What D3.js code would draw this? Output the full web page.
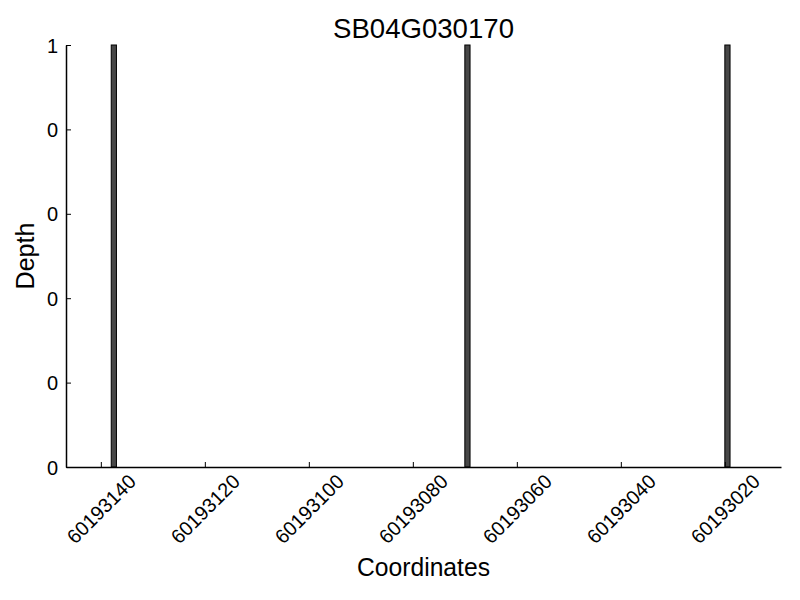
<!DOCTYPE html>
<html>
<head>
<meta charset="utf-8">
<script src="https://cdn.jsdelivr.net/npm/d3@7"></script>
<style>
  html, body { margin: 0; padding: 0; background: #fff; }
  svg { display: block; }
  svg text { font-family: "Liberation Sans", Arial, Helvetica, sans-serif; }
</style>
</head>
<body>
<svg id="chart" width="800" height="600"></svg>
<script>
// ---- data ----
const title = "SB04G030170";
const xLabel = "Coordinates";
const yLabel = "Depth";
const positions = [60193137, 60193069, 60193019];
const depths = [1, 1, 1];
const xTicks = [60193140, 60193120, 60193100, 60193080, 60193060, 60193040, 60193020];
const yTicks = [0, 0.2, 0.4, 0.6, 0.8, 1.0];
const yTickLabels = ["0", "0", "0", "0", "0", "1"];
const xDomain = [60193146.7, 60193009.2];
const yDomain = [0, 1];

// ---- layout ----
const mLeft = 66, mRight = 781, mTop = 45, mBottom = 467;
const svg = d3.select("#chart");

const x = d3.scaleLinear().domain(xDomain).range([mLeft, mRight]);
const y = d3.scaleLinear().domain(yDomain).range([mBottom, mTop]);

// bars (width 1 coordinate, edge aligned)
const data = positions.map((p, i) => ({ pos: p, depth: depths[i] }));
svg.append("g").selectAll("rect").data(data).join("rect")
  .attr("x", d => x(d.pos + 1))
  .attr("width", d => x(d.pos) - x(d.pos + 1))
  .attr("y", d => y(d.depth))
  .attr("height", d => y(0) - y(d.depth))
  .attr("fill", "#474747")
  .attr("stroke", "#000")
  .attr("stroke-width", 1);

// x axis (ticks inward)
const xAxis = d3.axisBottom(x).tickValues(xTicks).tickSizeInner(-5).tickSizeOuter(0)
  .tickFormat(d3.format("d"));
const gx = svg.append("g").attr("transform", `translate(0,${mBottom})`).call(xAxis);
gx.attr("font-family", null);
gx.select(".domain").attr("stroke", "#000").attr("stroke-width", 1.5);
gx.selectAll(".tick line").attr("stroke", "#000").attr("stroke-width", 1);
gx.selectAll(".tick text")
  .attr("font-size", 20)
  .attr("fill", "#000")
  .attr("text-anchor", "middle")
  .attr("dominant-baseline", "central")
  .attr("dy", null)
  .attr("y", null)
  .attr("textLength", 88)
  .attr("lengthAdjust", "spacingAndGlyphs")
  .attr("transform", "translate(0,42) rotate(-45)");

// y axis (ticks inward)
const yAxis = d3.axisLeft(y).tickValues(yTicks).tickSizeInner(-5).tickSizeOuter(0)
  .tickFormat((d, i) => yTickLabels[i]);
const gy = svg.append("g").attr("transform", `translate(${mLeft},0)`).call(yAxis);
gy.attr("font-family", null);
gy.select(".domain").attr("stroke", "#000").attr("stroke-width", 1.5);
gy.selectAll(".tick text")
  .attr("font-size", 20)
  .attr("fill", "#000")
  .attr("x", -8)
  .attr("dy", "0.35em")
  .attr("text-anchor", "end");
gy.selectAll(".tick line").attr("stroke", "#000").attr("stroke-width", 1);

// title
svg.append("text")
  .attr("x", (mLeft + mRight) / 2)
  .attr("y", 38)
  .attr("text-anchor", "middle")
  .attr("font-size", 28.5)
  .attr("textLength", 181)
  .attr("lengthAdjust", "spacingAndGlyphs")
  .text(title);

// x label
svg.append("text")
  .attr("x", (mLeft + mRight) / 2)
  .attr("y", 576)
  .attr("text-anchor", "middle")
  .attr("font-size", 25)
  .attr("textLength", 133)
  .attr("lengthAdjust", "spacingAndGlyphs")
  .text(xLabel);

// y label
svg.append("text")
  .attr("transform", `translate(34,${(mTop + mBottom) / 2}) rotate(-90)`)
  .attr("text-anchor", "middle")
  .attr("font-size", 25)
  .attr("textLength", 67)
  .attr("lengthAdjust", "spacingAndGlyphs")
  .text(yLabel);
</script>
</body>
</html>
